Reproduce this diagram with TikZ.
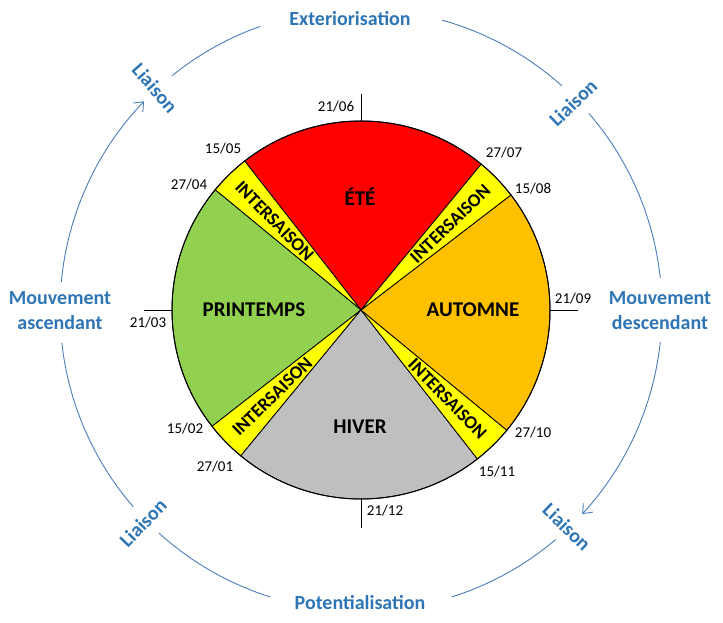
\documentclass[tikz,border=0pt]{standalone}
\usepackage{fontspec}
\setmainfont{Carlito}
\usetikzlibrary{arrows.meta,calc}
\definecolor{seRed}{HTML}{FF0000}
\definecolor{seYellow}{HTML}{FFFF00}
\definecolor{seGreen}{HTML}{92D050}
\definecolor{seOrange}{HTML}{FFC000}
\definecolor{seGrey}{HTML}{BFBFBF}
\definecolor{txtBlue}{HTML}{2E75B6}
\definecolor{arcBlue}{HTML}{4A7EBB}
\begin{document}
\begin{tikzpicture}[x=1pt,y=1pt,
  seasonlbl/.style={font=\fontsize{21}{24}\selectfont\bfseries, inner sep=0},
  datelbl/.style={font=\fontsize{15}{18}\selectfont, inner sep=0},
  interlbl/.style={font=\fontsize{18.5}{20}\selectfont\bfseries, inner sep=0},
  bluelbl/.style={font=\fontsize{20}{25}\selectfont\bfseries, text=txtBlue, align=center, inner sep=0},
  ring/.style={draw=arcBlue, line width=0.9pt},
  ringarrow/.style={ring, -{Straight Barb[length=8pt,width=13pt]}},
  sector/.style={draw=black, line width=0.8pt},
  tick/.style={draw=black, line width=0.8pt},
]
\useasboundingbox (0,0) rectangle (723,623);
\coordinate (C) at (361,313);
\def\R{189}
\def\Ro{301}
% sectors
\filldraw[fill=seRed, sector] (C) -- ++(50.5:\R) arc[start angle=50.5, end angle=128, radius=\R] -- cycle;
\filldraw[fill=seYellow, sector] (C) -- ++(128:\R) arc[start angle=128, end angle=140.5, radius=\R] -- cycle;
\filldraw[fill=seGreen, sector] (C) -- ++(140.5:\R) arc[start angle=140.5, end angle=218, radius=\R] -- cycle;
\filldraw[fill=seYellow, sector] (C) -- ++(218:\R) arc[start angle=218, end angle=230.5, radius=\R] -- cycle;
\filldraw[fill=seGrey, sector] (C) -- ++(230.5:\R) arc[start angle=230.5, end angle=308, radius=\R] -- cycle;
\filldraw[fill=seYellow, sector] (C) -- ++(308:\R) arc[start angle=308, end angle=320.5, radius=\R] -- cycle;
\filldraw[fill=seOrange, sector] (C) -- ++(320.5:\R) arc[start angle=320.5, end angle=397.5, radius=\R] -- cycle;
\filldraw[fill=seYellow, sector] (C) -- ++(37.5:\R) arc[start angle=37.5, end angle=50.5, radius=\R] -- cycle;
\draw[line width=1pt] (C) circle[radius=\R];
% ticks
\draw[tick] (C) ++(0,\R) -- ++(0,27);
\draw[tick] (C) ++(-\R,0) -- ++(-28,0);
\draw[tick] (C) ++(\R,0) -- ++(28,0);
\draw[tick] (C) ++(0,-\R) -- ++(0,-29);
% season labels
\node[seasonlbl] (ete) at (360,426) {ÉTÉ};
\node[seasonlbl] (printemps) at (254,313) {PRINTEMPS};
\node[seasonlbl] (automne) at (473,313) {AUTOMNE};
\node[seasonlbl] (hiver) at (360,196) {HIVER};
% intersaison labels
\node[interlbl, rotate=-45.75] (i1) at ($(C)+(134.25:124)$) {INTERSAISON};
\node[interlbl, rotate=44] (i2) at ($(C)+(44:124)$) {INTERSAISON};
\node[interlbl, rotate=44.25] (i3) at ($(C)+(224.25:124)$) {INTERSAISON};
\node[interlbl, rotate=-45.75] (i4) at ($(C)+(314.25:124)$) {INTERSAISON};
% dates
\node[datelbl] (d1) at (336,516) {21/06};
\node[datelbl] (d2) at (223,474) {15/05};
\node[datelbl] (d3) at (189,438) {27/04};
\node[datelbl] (d4) at (504,470) {27/07};
\node[datelbl] (d5) at (533,434) {15/08};
\node[datelbl] (d6) at (573,324) {21/09};
\node[datelbl] (d7) at (148,300) {21/03};
\node[datelbl] (d8) at (185,194) {15/02};
\node[datelbl] (d9) at (215,156) {27/01};
\node[datelbl] (d10) at (533,190) {27/10};
\node[datelbl] (d11) at (497,151) {15/11};
\node[datelbl] (d12) at (385,112) {21/12};
% outer labels
\node[bluelbl] (ext) at (350,604) {Exteriorisation};
\node[bluelbl] (pot) at (360,20) {Potentialisation};
\node[bluelbl] (asc) at (60,312) {Mouvement\\ascendant};
\node[bluelbl] (desc) at (660,312) {Mouvement\\descendant};
\node[bluelbl, rotate=-49] (l1) at (155,535) {Liaison};
\node[bluelbl, rotate=44] (l2) at (573,520) {Liaison};
\node[bluelbl, rotate=-44] (l3) at (567,96) {Liaison};
\node[bluelbl, rotate=46] (l4) at (143,100) {Liaison};
% outer ring arcs
\draw[ring] (C) ++(109.6:\Ro) arc[start angle=109.6, end angle=128.9, radius=\Ro];
\draw[ring] (C) ++(74.4:\Ro) arc[start angle=74.4, end angle=48.1, radius=\Ro];
\draw[ring] (C) ++(40.8:\Ro) arc[start angle=40.8, end angle=6.1, radius=\Ro];
\draw[ringarrow] (C) ++(-6.1:\Ro) arc[start angle=-6.1, end angle=-42.7, radius=\Ro];
\draw[ring] (C) ++(-49.7:\Ro) arc[start angle=-49.7, end angle=-72.5, radius=\Ro];
\draw[ring] (C) ++(252.5:\Ro) arc[start angle=252.5, end angle=227.8, radius=\Ro];
\draw[ring] (C) ++(220.8:\Ro) arc[start angle=220.8, end angle=186.3, radius=\Ro];
\draw[ringarrow] (C) ++(174.7:\Ro) arc[start angle=174.7, end angle=136.1, radius=\Ro];
\end{tikzpicture}
\end{document}
